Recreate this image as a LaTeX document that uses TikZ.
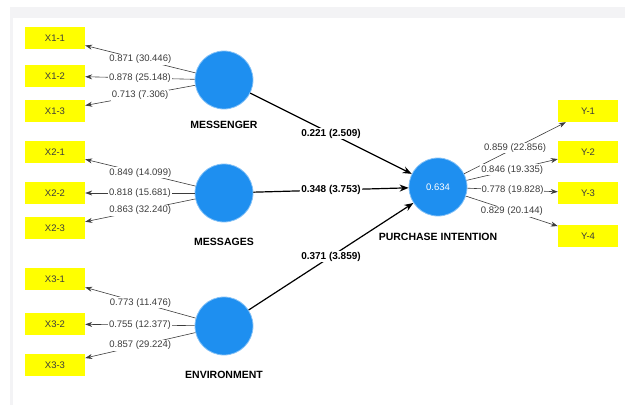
\documentclass[tikz,border=0pt]{standalone}
\usepackage{fontspec}
\setmainfont{Liberation Sans}
\usetikzlibrary{arrows.meta}
\definecolor{jaune}{HTML}{FFFF00}
\definecolor{bleu}{HTML}{1E8FF0}
\definecolor{gristexte}{HTML}{3C3C3C}
\definecolor{cadre}{HTML}{F3F3F5}

\tikzset{
  indic/.style={fill=jaune, minimum width=60pt, minimum height=22pt, inner sep=0pt,
    font=\fontsize{9.5}{10}\selectfont, text=gristexte},
  latent/.style={circle, fill=bleu, draw=bleu!55, line width=0.8pt, minimum size=58pt,
    inner sep=0pt, text=white, font=\fontsize{9.5}{10}\selectfont},
  nom/.style={font=\bfseries\fontsize{10.5}{12}\selectfont},
  charge/.style={draw=gristexte, line width=0.6pt, -{Stealth[length=7pt,width=5pt]}},
  chemin/.style={draw=black, line width=1.2pt, -{Stealth[length=9pt,width=7pt]}},
  poids/.style={fill=white, inner sep=1pt, font=\fontsize{9.5}{10}\selectfont, text=gristexte},
  coef/.style={fill=white, inner sep=1pt, font=\bfseries\fontsize{10}{11}\selectfont},
}

\begin{document}
\begin{tikzpicture}[x=1pt, y=-1pt]
\useasboundingbox (0,0) rectangle (625,405) ;
% window frame
\fill[cadre] (10,7) rectangle (625,18) ;
\fill[cadre] (10,7) rectangle (13,405) ;

% latent variables
\node[latent] (messenger) at (224,80) {} ;
\node[latent] (messages) at (224,193) {} ;
\node[latent] (environment) at (224,326) {} ;
\node[latent] (purchase) at (438,187) {0.634} ;
\node[nom] (nmessenger) at (224,125) {MESSENGER} ;
\node[nom] (nmessages) at (224,242) {MESSAGES} ;
\node[nom] (nenvironment) at (224,375) {ENVIRONMENT} ;
\node[nom] (npurchase) at (438,237) {PURCHASE INTENTION} ;

%% indicators MESSENGER
\node[indic] (x11) at (55,38) {X1-1} ;
\node[indic] (x12) at (55,76) {X1-2} ;
\node[indic] (x13) at (55,111) {X1-3} ;
\draw[charge] (messenger) -- (x11) node[poids, pos=0.5] {0.871 (30.446)} ;
\draw[charge] (messenger) -- (x12) node[poids, pos=0.5] {0.878 (25.148)} ;
\draw[charge] (messenger) -- (x13) node[poids, pos=0.5] {0.713 (7.306)} ;

%% indicators MESSAGES
\node[indic] (x21) at (55,152) {X2-1} ;
\node[indic] (x22) at (55,193) {X2-2} ;
\node[indic] (x23) at (55,228) {X2-3} ;
\draw[charge] (messages) -- (x21) node[poids, pos=0.5] {0.849 (14.099)} ;
\draw[charge] (messages) -- (x22) node[poids, pos=0.5] {0.818 (15.681)} ;
\draw[charge] (messages) -- (x23) node[poids, pos=0.5] {0.863 (32.240)} ;

%% indicators ENVIRONMENT
\node[indic] (x31) at (55,279) {X3-1} ;
\node[indic] (x32) at (55,324) {X3-2} ;
\node[indic] (x33) at (55,365) {X3-3} ;
\draw[charge] (environment) -- (x31) node[poids, pos=0.5] {0.773 (11.476)} ;
\draw[charge] (environment) -- (x32) node[poids, pos=0.5] {0.755 (12.377)} ;
\draw[charge] (environment) -- (x33) node[poids, pos=0.5] {0.857 (29.224)} ;

%% indicators PURCHASE INTENTION
\node[indic] (y1) at (588,111) {Y-1} ;
\node[indic] (y2) at (588,152) {Y-2} ;
\node[indic] (y3) at (588,193) {Y-3} ;
\node[indic] (y4) at (588,236) {Y-4} ;
\draw[charge] (purchase) -- (y1) node[poids, pos=0.5] {0.859 (22.856)} ;
\draw[charge] (purchase) -- (y2) node[poids, pos=0.5] {0.846 (19.335)} ;
\draw[charge] (purchase) -- (y3) node[poids, pos=0.5] {0.778 (19.828)} ;
\draw[charge] (purchase) -- (y4) node[poids, pos=0.5] {0.829 (20.144)} ;

% paths
\draw[chemin] (messenger) -- (purchase) node[coef, pos=0.5] {0.221 (2.509)} ;
\draw[chemin] (messages) -- (purchase) node[coef, pos=0.5] {0.348 (3.753)} ;
\draw[chemin] (environment) -- (purchase) node[coef, pos=0.5] {0.371 (3.859)} ;
\end{tikzpicture}
\end{document}
